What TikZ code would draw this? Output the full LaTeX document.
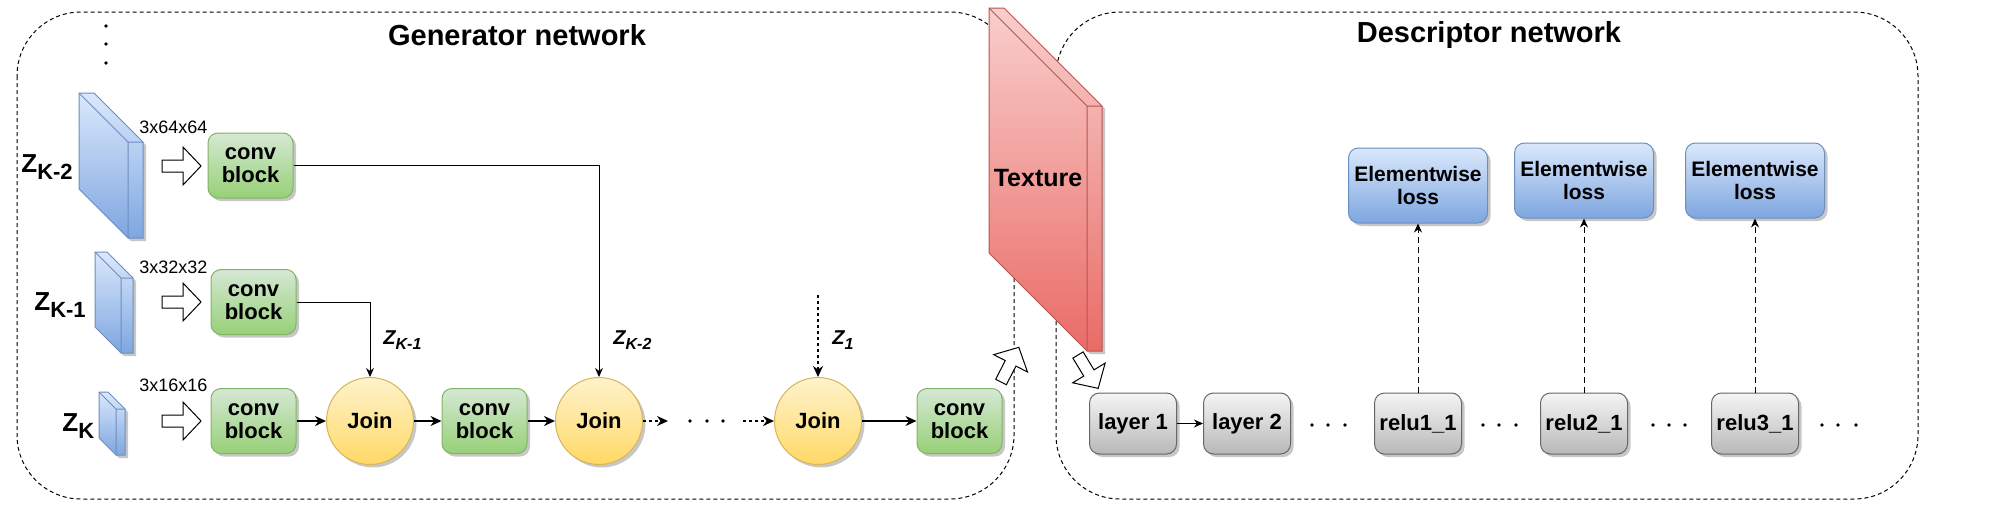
\documentclass[tikz,border=0pt]{standalone}
\usepackage{fontspec}
\setmainfont{Liberation Sans}
\usepackage{xcolor}
\usetikzlibrary{arrows.meta,shadows,positioning}

\definecolor{convtop}{HTML}{D5E8D4}
\definecolor{convbot}{HTML}{97D077}
\definecolor{convline}{HTML}{82B366}
\definecolor{jointop}{HTML}{FFF2CC}
\definecolor{joinbot}{HTML}{FFD966}
\definecolor{joinline}{HTML}{D6B656}
\definecolor{losstop}{HTML}{DAE8FC}
\definecolor{lossbot}{HTML}{7EA6E0}
\definecolor{lossline}{HTML}{6C8EBF}
\definecolor{layertop}{HTML}{F5F5F5}
\definecolor{layerbot}{HTML}{B8B8B8}
\definecolor{layerline}{HTML}{666666}
\definecolor{textop}{HTML}{F8CECC}
\definecolor{texbot}{HTML}{EA6B66}
\definecolor{texline}{HTML}{B85450}

% Z with a lowered index
\newcommand{\bigz}[1]{Z\raisebox{-3.5pt}{\fontsize{11}{11}\selectfont #1}}
\newcommand{\smallz}[1]{Z\raisebox{-2.5pt}{\fontsize{8}{8}\selectfont #1}}

% slab: back corner x, y, front width, height, depth, fill style, line colour
\newcommand{\cuboid}[7]{%
	\draw[#6, draw=#7, line width=0.5pt] (#1,#2) -- ++(#3,0) -- ++(#5,#5) -- ++(0,#4) -- ++(-#3,0) -- ++(-#5,-#5) -- cycle;
	\draw[draw=#7, line width=0.5pt] (#1,#2) -- ++(#5,#5) -- ++(0,#4) ++(0,-#4) -- ++(#3,0);
}

\tikzset{
	groupbox/.style = {draw, line width=0.5pt, dash pattern=on 2pt off 1.5pt, rounded corners=32pt},
	title/.style = {font=\fontsize{14.5}{17}\selectfont\bfseries},
	shadowed/.style = {drop shadow={shadow xshift=1.5pt, shadow yshift=-1.5pt, opacity=0.22, fill=black}},
	block/.style = {
			shadowed, draw, line width=0.5pt,
			rounded corners=5pt,
			align=center, inner sep=0pt,
			font=\fontsize{11}{11.5}\selectfont\bfseries,
		},
	convblock/.style = {block, draw=convline, top color=convtop, bottom color=convbot, minimum width=42.5pt, minimum height=32.5pt},
	layerbox/.style = {block, draw=layerline, top color=layertop, bottom color=layerbot, minimum width=43.5pt, minimum height=30.5pt},
	lossbox/.style = {block, draw=lossline, top color=losstop, bottom color=lossbot, minimum width=69.5pt, minimum height=37.5pt, font=\fontsize{10.5}{11.5}\selectfont\bfseries},
	joinnode/.style = {
			shadowed, circle, draw=joinline, line width=0.5pt,
			top color=jointop, bottom color=joinbot,
			minimum size=43.5pt, inner sep=0pt,
			font=\fontsize{11}{11.5}\selectfont\bfseries,
		},
	dimlabel/.style = {font=\fontsize{9}{10}\selectfont, inner sep=0pt},
	zbig/.style = {font=\fontsize{13}{15}\selectfont\bfseries, inner sep=0pt},
	zsmall/.style = {font=\fontsize{10}{12}\selectfont\bfseries\itshape, inner sep=0pt},
	thickarrow/.style = {-{Stealth[length=5.5pt,width=5pt]}, line width=1pt},
	thinarrow/.style = {-{Stealth[length=4.5pt,width=4pt]}, line width=0.5pt},
	dottedarrow/.style = {thickarrow, dash pattern=on 1.5pt off 1.5pt},
	dashedarrow/.style = {thinarrow, dash pattern=on 3pt off 2pt},
	blueslab/.style = {shadowed, top color=losstop, bottom color=lossbot},
	redslab/.style = {shadowed, top color=textop, bottom color=texbot},
	hollow/.pic = {
			\draw[fill=white, line width=0.5pt] (0,-6) -- (21,-6) -- (21,-19) -- (39,0) -- (21,19) -- (21,6) -- (0,6) -- cycle;
		},
}

\begin{document}
\begin{tikzpicture}[x=0.5pt,y=-0.5pt]
	\useasboundingbox (0,0) rectangle (2015,520);

	% Network frames
	\draw[groupbox] (17,12) rectangle (1014,499);
	\draw[groupbox] (1056,12) rectangle (1918,499);
	\node[title] (gentitle) at (517,35) {Generator network};
	\node[title] (desctitle) at (1489,35) {Descriptor network};

	% Noise inputs
	\cuboid{79}{93}{15}{96}{49}{blueslab}{lossline}
	\cuboid{95}{252}{12}{75}{26}{blueslab}{lossline}
	\cuboid{99}{392}{9}{46}{17}{blueslab}{lossline}
	\foreach \y in {26,44,63}
		\fill (106,\y) circle[radius=0.9pt];

	\node[zbig, anchor=base west] (zbigA) at (21,172) {\bigz{K-2}};
	\node[zbig, anchor=base west] (zbigB) at (34,310) {\bigz{K-1}};
	\node[zbig, anchor=base west] (zbigC) at (62,431) {\bigz{K}};

	\node[dimlabel, anchor=west] (dimA) at (139,127) {3x64x64};
	\node[dimlabel, anchor=west] (dimB) at (139,267) {3x32x32};
	\node[dimlabel, anchor=west] (dimC) at (139,385) {3x16x16};

	\foreach \y in {166,302,421}
		\pic at (162,\y) {hollow};

	% Generator blocks
	\node[convblock] (cbA) at (250.5,165.5) {conv\\block};
	\node[convblock] (cbB) at (253.5,302) {conv\\block};
	\node[convblock] (cbC) at (253.5,421) {conv\\block};
	\node[joinnode] (joinA) at (370,421) {Join};
	\node[convblock] (cbD) at (484.5,421) {conv\\block};
	\node[joinnode] (joinB) at (599,421) {Join};
	\node[joinnode] (joinC) at (818,421) {Join};
	\node[convblock] (cbE) at (959.5,421) {conv\\block};

	\draw[thickarrow] (cbC) -- (joinA);
	\draw[thickarrow] (joinA) -- (cbD);
	\draw[thickarrow] (cbD) -- (joinB);
	\draw[thickarrow] (joinC) -- (cbE);
	\draw[thinarrow] (cbB.east) -| (joinA.north);
	\draw[thinarrow] (cbA.east) -| (joinB.north);

	% Skipped scales
	\coordinate (skipA) at (668,421);
	\coordinate (skipB) at (743,421);
	\coordinate (zonetop) at (818,295);
	\draw[dottedarrow] (joinB) -- (skipA);
	\draw[dottedarrow] (skipB) -- (joinC);
	\draw[dottedarrow] (zonetop) -- (joinC);
	\foreach \x in {690,707,723}
		\fill (\x,421) circle[radius=0.9pt];

	\node[zsmall, anchor=base west] (zsmallB) at (383,344) {\smallz{K-1}};
	\node[zsmall, anchor=base west] (zsmallA) at (613,344) {\smallz{K-2}};
	\node[zsmall, anchor=base west] (zsmallC) at (832,344) {\smallz{1}};

	% Texture
	\cuboid{989}{8}{15}{245}{98}{redslab}{texline}
	\node[font=\fontsize{12.5}{14}\selectfont\bfseries] (texlab) at (1038,178) {Texture};
	\pic[rotate=62.8] at (1001,382) {hollow};
	\pic[rotate=-58.8] at (1078,355) {hollow};

	% Descriptor layers
	\foreach \name/\x/\txt in {layA/1133/layer 1, layB/1247/layer 2, reluA/1418/relu1\_1, reluB/1584/relu2\_1, reluC/1755/relu3\_1}
		\node[layerbox] (\name) at (\x,423.5) {\txt};
	\draw[thinarrow] (layA) -- (layB);
	\foreach \x in {1312,1328,1345,1483,1499,1516,1653,1669,1685,1822,1838,1856}
		\fill (\x,425) circle[radius=0.9pt];

	% Losses
	\foreach \name/\x/\y in {reluA/1418/185.5, reluB/1584/180.5, reluC/1755/180.5}
		{
			\node[lossbox] (loss\name) at (\x,\y) {Elementwise\\loss};
			\draw[dashedarrow] (\name.north) -- (loss\name.south);
		}
\end{tikzpicture}
\end{document}
